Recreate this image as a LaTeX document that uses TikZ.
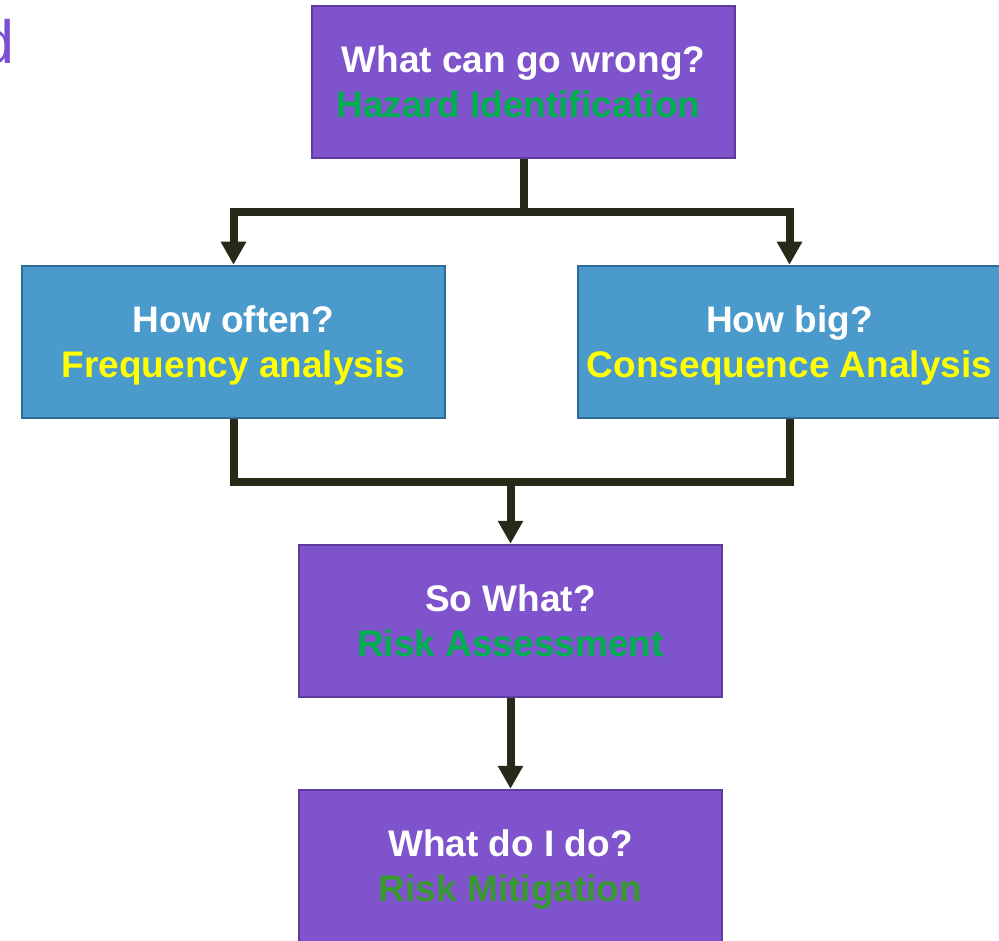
\documentclass[tikz,border=0pt]{standalone}
\usepackage{fontspec}
\setmainfont{Liberation Sans}
\usetikzlibrary{arrows.meta}

\definecolor{boxpurple}{HTML}{7E53CB}
\definecolor{boxpurpleedge}{HTML}{5C3C9C}
\definecolor{boxblue}{HTML}{4A9ACB}
\definecolor{boxblueedge}{HTML}{2F6C95}
\definecolor{connector}{HTML}{29291A}
\definecolor{labelgreen}{HTML}{00B050}
\definecolor{mitigreen}{HTML}{3A9A32}
\definecolor{labelyellow}{HTML}{FFFF00}
\definecolor{titlepurple}{HTML}{7B50D0}

\tikzset{
  box/.style={draw, line width=2.5pt, minimum width=423pt, minimum height=152pt,
    inner sep=0pt, align=center, text=white, text depth=-6pt,
    font=\bfseries\fontsize{37}{45}\selectfont},
  purplebox/.style={box, fill=boxpurple, draw=boxpurpleedge},
  bluebox/.style={box, fill=boxblue, draw=boxblueedge, text depth=-11pt},
  conn/.style={draw=connector, line width=8pt, line join=miter},
  arrowed/.style={conn, -{Triangle[width=24pt,length=23pt]}},
}

\begin{document}
\begin{tikzpicture}[x=1pt,y=-1pt]
\useasboundingbox (0,0) rectangle (999,941);
\clip (0,0) rectangle (999,941);

% fragment of the slide title at the left edge
\node[anchor=base west, inner sep=0pt, text=titlepurple,
      font=\fontsize{61}{70}\selectfont] (title) at (-20,64) {d};

% boxes
\node[purplebox] (hazard) at (523.5,82)
  {What can go wrong?\\\color{labelgreen}Hazard Identification\hspace*{10pt}};
\node[bluebox] (freq) at (233.5,342)
  {How often?\\\color{labelyellow}Frequency analysis};
\node[bluebox] (cons) at (789.5,342)
  {How big?\\\color{labelyellow}Consequence Analysis};
\node[purplebox] (risk) at (510.5,621)
  {So What?\\\color{labelgreen}Risk Assessment};
\node[purplebox] (mitig) at (510.5,866)
  {What do I do?\\\color{mitigreen}Risk Mitigation};

% split from the hazard box
\coordinate (split) at (523.5,212);
\draw[conn] (hazard.south) -- (split);
\draw[arrowed] (split) -| (freq.north);
\draw[arrowed] (split) -| (cons.north);

% merge into the risk box
\coordinate (merge) at (510.5,482);
\draw[conn] (freq.south) -- (freq.south |- merge) -- (cons.south |- merge) -- (cons.south);
\draw[arrowed] (merge) -- (risk.north);

% risk to mitigation
\draw[arrowed] (risk.south) -- (mitig.north);
\end{tikzpicture}
\end{document}
